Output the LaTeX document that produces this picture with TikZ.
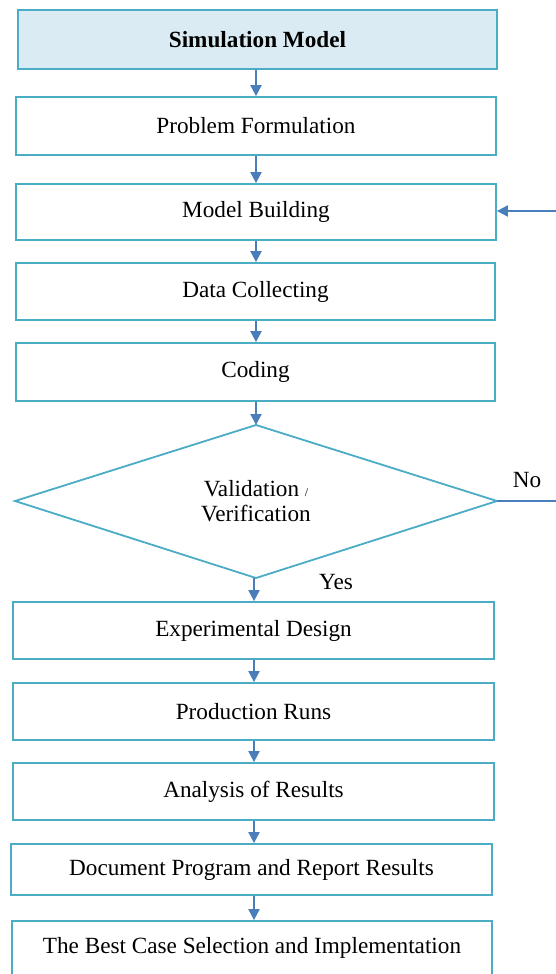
\documentclass[tikz,border=0pt]{standalone}
\usepackage{fontspec}
\setmainfont{Liberation Serif}
\usetikzlibrary{arrows.meta,shapes.geometric}
\definecolor{boxline}{HTML}{4BACC6}
\definecolor{arrowc}{HTML}{4A7EBB}
\definecolor{topfill}{HTML}{DAEBF3}
\begin{document}
\begin{tikzpicture}[x=1pt,y=-1pt,
  stepbox/.style={draw=boxline,line width=1.8pt,fill=white,inner sep=0pt,font=\fontsize{23.2}{27}\selectfont},
  flow/.style={draw=arrowc,line width=2pt,-{Triangle[width=11pt,length=11pt]}},
  lbl/.style={font=\fontsize{23.2}{27}\selectfont,inner sep=0pt}]
\useasboundingbox (0,0) rectangle (556,974);
\clip (0,0) rectangle (556,974);
\node[stepbox,fill=topfill,minimum width=479pt,minimum height=59pt,font=\fontsize{23.2}{27}\selectfont\bfseries] (sm) at (257.5,39.5) {Simulation Model};
\node[stepbox,minimum width=480pt,minimum height=58pt] (pf) at (256,126) {Problem Formulation};
\node[stepbox,minimum width=480pt,minimum height=56pt] (mb) at (256,212) {Model Building};
\node[stepbox,minimum width=479pt,minimum height=57pt] (dc) at (255.5,291.5) {Data Collecting};
\node[stepbox,minimum width=479pt,minimum height=58pt] (co) at (255.5,372) {Coding};
\coordinate (dt) at (256,425);
\coordinate (dr) at (497,501);
\coordinate (db) at (256,578);
\coordinate (dl) at (15,501);
\draw[boxline,line width=1.8pt,fill=white] (dt) -- (dr) -- (db) -- (dl) -- cycle;
\node[lbl,align=center] (vv) at (256,501) {Validation {\fontsize{12}{14}\selectfont/}\\[-2pt]Verification};
\node[stepbox,minimum width=481pt,minimum height=57pt] (ed) at (253.5,630.5) {Experimental Design};
\node[stepbox,minimum width=481pt,minimum height=57pt] (pr) at (253.5,711.5) {Production Runs};
\node[stepbox,minimum width=481pt,minimum height=57pt] (ar) at (253.5,791.5) {Analysis of Results};
\node[stepbox,minimum width=481pt,minimum height=51pt] (dp) at (251.5,869.5) {Document Program and Report Results};
\node[stepbox,minimum width=480pt,minimum height=64pt] (bc) at (252,953) {};
\node[lbl] (bct) at (252,948) {The Best Case Selection and Implementation};
\coordinate (ax) at (256,0);
\coordinate (bx) at (254,0);
\coordinate (fbin) at (560,211);
\coordinate (noout) at (560,501);
\draw[flow] (sm.south -| ax) -- (pf.north -| ax);
\draw[flow] (pf.south -| ax) -- (mb.north -| ax);
\draw[flow] (mb.south -| ax) -- (dc.north -| ax);
\draw[flow] (dc.south -| ax) -- (co.north -| ax);
\draw[flow] (co.south -| ax) -- (dt);
\draw[flow] (db -| bx) -- (ed.north -| bx);
\draw[flow] (ed.south -| bx) -- (pr.north -| bx);
\draw[flow] (pr.south -| bx) -- (ar.north -| bx);
\draw[flow] (ar.south -| bx) -- (dp.north -| bx);
\draw[flow] (dp.south -| bx) -- (bc.north -| bx);
\draw[flow] (fbin) -- (fbin -| mb.east);
\draw[draw=arrowc,line width=2pt] (dr) -- (noout);
\node[lbl] (no) at (527,480) {No};
\node[lbl] (yes) at (336,582) {Yes};
\end{tikzpicture}
\end{document}
